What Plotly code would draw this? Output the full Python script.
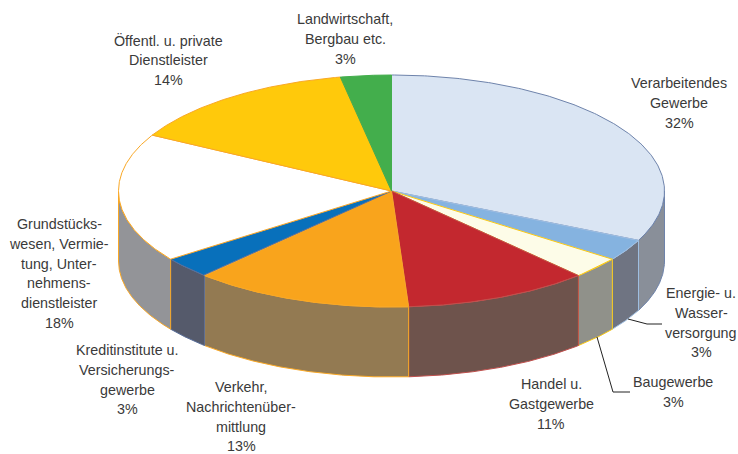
import numpy as np
import plotly.graph_objects as go

categories = ["Verarbeitendes\nGewerbe", "Energie- u.\nWasser-\nversorgung", "Baugewerbe",
              "Handel u.\nGastgewerbe", "Verkehr,\nNachrichtenüber-\nmittlung",
              "Kreditinstitute u.\nVersicherungs-\ngewerbe",
              "Grundstücks-\nwesen, Vermie-\ntung, Unter-\nnehmens-\ndienstleister",
              "Öffentl. u. private\nDienstleister", "Landwirtschaft,\nBergbau etc."]
shares = [32, 3, 3, 11, 13, 3, 18, 14, 3]

top_colors = ["#dae5f3", "#85b3e0", "#fdfce8", "#c3282f", "#f9a41c", "#0870bb", "#ffffff", "#ffc90b", "#43ae4c"]
side_colors = ["#898f99", "#6f7482", "#90918a", "#6e534c", "#937a52", "#555a6b", "#939498", "#8f7a3c", "#3f7a48"]
edge_colors = ["#6e83ab", "#9fbfe3", "#fbc913", "#c0504d", "#f9a826", "#5a6f9a", "#f9a826", "#f9a826", "#43ae4c"]

label_anchor = [(679, 83), (701, 293), (673, 382), (551, 384), (241, 387), (127, 350), (59, 224), (168, 40), (345, 19)]

CX, CY, RX, RY, DEPTH = 391.5, 191, 273, 116, 70
LINE_H = 19.8
FONT = dict(family="Liberation Sans, Arial, sans-serif", size=14.3, color="#3a3a3a")

def ell(theta):
    return CX + RX * np.sin(theta), CY + RY * (-np.cos(theta))

edges = np.radians(np.cumsum([0] + shares) * 3.6)
fig = go.Figure()

# side walls
for i in range(len(shares)):
    a, b = max(edges[i], np.pi / 2), min(edges[i + 1], 3 * np.pi / 2)
    if b <= a:
        continue
    t = np.linspace(a, b, 120)
    x, y = ell(t)
    xs = np.r_[x, x[::-1], x[0]]
    ys = np.r_[y, y[::-1] + DEPTH, y[0]]
    fig.add_trace(go.Scatter(x=xs, y=ys, mode="lines", fill="toself", fillcolor=side_colors[i],
                             line=dict(color=edge_colors[i], width=1), hoverinfo="skip"))

# top faces
for i in range(len(shares)):
    t = np.linspace(edges[i], edges[i + 1], 200)
    x, y = ell(t)
    xs = np.r_[CX, x, CX]
    ys = np.r_[CY, y, CY]
    fig.add_trace(go.Scatter(x=xs, y=ys, mode="lines", fill="toself", fillcolor=top_colors[i],
                             line=dict(color=edge_colors[i], width=1), hoverinfo="skip"))

# leader lines
for lx, ly in [([628, 647, 662], [319, 324, 324]), ([597, 613, 630], [337, 392, 392])]:
    fig.add_trace(go.Scatter(x=lx, y=ly, mode="lines", line=dict(color="#222222", width=1), hoverinfo="skip"))

for cat, v, (ax, ay) in zip(categories, shares, label_anchor):
    for j, line in enumerate(cat.split("\n") + [f"{v}%"]):
        fig.add_annotation(x=ax, y=ay + j * LINE_H, text=line, showarrow=False, xanchor="center",
                           yanchor="middle", font=FONT)

fig.update_layout(width=738, height=454, margin=dict(l=0, r=0, t=0, b=0), showlegend=False,
                  paper_bgcolor="white", plot_bgcolor="white",
                  xaxis=dict(range=[0, 738], visible=False, fixedrange=True),
                  yaxis=dict(range=[454, 0], visible=False, fixedrange=True))
fig.write_html("out.html", config=dict(displayModeBar=False),
               post_script="document.body.style.margin='0';document.body.style.overflow='hidden';")
